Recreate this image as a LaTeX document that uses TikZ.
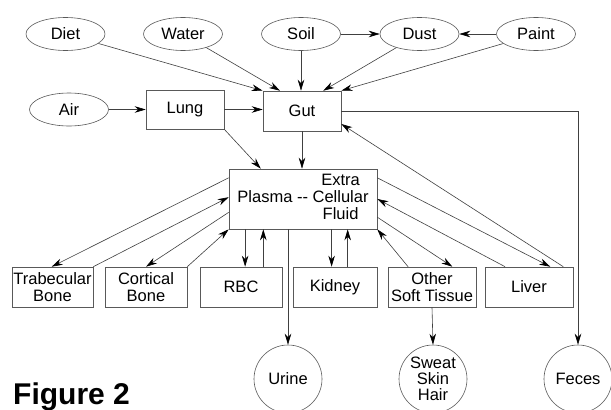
\documentclass[tikz,border=0pt]{standalone}
\usepackage{fontspec}
\setmainfont{Liberation Sans}
\usetikzlibrary{shapes.geometric,arrows.meta,calc}
\begin{document}
\begin{tikzpicture}[x=1pt,y=-1pt,
  txt/.style={font=\fontsize{16.5}{17}\selectfont},
  ell/.style={ellipse, draw=black!65, line width=0.6pt, minimum width=79pt, minimum height=33pt, inner sep=0pt, txt},
  box/.style={rectangle, draw=black!65, line width=0.6pt, inner sep=1pt, align=center, txt},
  bot/.style={box, minimum height=40pt},
  circ/.style={circle, draw=black!65, line width=0.6pt, minimum size=68pt, inner sep=0pt, align=center, font=\fontsize{16.5}{16}\selectfont},
  arr/.style={draw=black!75, line width=0.6pt, -{Stealth[length=11pt,width=6.5pt,inset=3.5pt,color=black]}}
]
\useasboundingbox (0,0) rectangle (611,410);
\fill[white] (0,0) rectangle (611,410);

% sources
\node[ell] (diet)  at (65.5,34) {Diet};
\node[ell] (water) at (183,34) {Water};
\node[ell] (soil)  at (301,34) {Soil};
\node[ell] (dust)  at (419.5,34) {Dust};
\node[ell] (paint) at (536,34) {Paint};
\node[ell] (air)   at (69,109.5) {Air};

\node[box, minimum width=78pt, minimum height=39pt] (lung) at (185,109.5) {Lung};
\node[box, minimum width=78pt, minimum height=40pt] (gut) at (302,111) {Gut};

\node[box, minimum width=148pt, minimum height=60pt] (plasma) at (303,199)
  {\begin{tabular}{@{}l@{ }c@{}} & Extra\\ Plasma -{}- & Cellular\\ & Fluid\end{tabular}};

% compartments
\node[bot, minimum width=81pt] (trab)   at (52.5,287) {Trabecular\\Bone};
\node[bot, minimum width=82pt] (cort)   at (146,287) {Cortical\\Bone};
\node[bot, minimum width=82pt] (rbc)    at (241,287) {RBC};
\node[bot, minimum width=84pt] (kidney) at (335,287) {Kidney};
\node[bot, minimum width=88pt] (other)  at (432,287) {Other\\Soft Tissue};
\node[bot, minimum width=88pt] (liver)  at (529,287) {Liver};

% excretion
\node[circ] (urine) at (288,379) {Urine};
\node[circ] (sweat) at (433,379) {Sweat\\Skin\\Hair};
\node[circ] (feces) at (578,379) {Feces};

\node[anchor=base west, inner sep=0pt, font=\bfseries\fontsize{30}{30}\selectfont] (fig) at (13,404) {Figure 2};

% top connectors
\draw[arr] (soil.east) -- (dust.west);
\draw[arr] (paint.west) -- (dust.east);
\draw[arr] (diet) -- (gut.north west);
\draw[arr] (water) -- ($(gut.north west)!0.22!(gut.north east)$);
\draw[arr] (soil.south) -- (soil.south |- gut.north);
\draw[arr] (dust) -- ($(gut.north west)!0.77!(gut.north east)$);
\draw[arr] (paint) -- (gut.north east);
\draw[arr] (air.east) -- (air.east -| lung.west);
\draw[arr] (lung.east) -- (lung.east -| gut.west);
\draw[arr] (lung.south east) -- ($(plasma.north west)!0.216!(plasma.north east)$);
\draw[arr] (gut.south) -- (gut.south |- plasma.north);
\draw[arr] (gut.east) -| (feces.north);
\draw[arr] ($(liver.north west)!0.887!(liver.north east)$) -- ($(gut.north east)!0.82!(gut.south east)$);

% plasma <-> compartments
\draw[arr] ($(plasma.north west)!0.15!(plasma.south west)$) -- ($(trab.north west)!0.49!(trab.north east)$);
\draw[arr] (trab.north east) -- ($(plasma.north west)!0.47!(plasma.south west)$);
\draw[arr] ($(plasma.north west)!0.72!(plasma.south west)$) -- (cort.north);
\draw[arr] (cort.north east) -- (plasma.south west);

\coordinate (rbcA) at ($(rbc.north west)!0.55!(rbc.north east)$);
\coordinate (rbcB) at ($(rbc.north west)!0.77!(rbc.north east)$);
\draw[arr] (rbcA |- plasma.south) -- (rbcA);
\draw[arr] (rbcB) -- (rbcB |- plasma.south);

\draw[arr] (urine.north |- plasma.south) -- (urine.north);

\coordinate (kidA) at ($(kidney.north west)!0.46!(kidney.north east)$);
\coordinate (kidB) at ($(kidney.north west)!0.65!(kidney.north east)$);
\draw[arr] (kidA |- plasma.south) -- (kidA);
\draw[arr] (kidB) -- (kidB |- plasma.south);

\draw[arr] ($(other.north west)!0.23!(other.north east)$) -- (plasma.south east);
\draw[arr] ($(plasma.north east)!0.8!(plasma.south east)$) -- ($(other.north west)!0.73!(other.north east)$);
\draw[arr] ($(liver.north west)!0.23!(liver.north east)$) -- (plasma.east);
\draw[arr] ($(plasma.north east)!0.15!(plasma.south east)$) -- ($(liver.north west)!0.74!(liver.north east)$);

\draw[arr] (other.south) -- (sweat.north);
\end{tikzpicture}
\end{document}
